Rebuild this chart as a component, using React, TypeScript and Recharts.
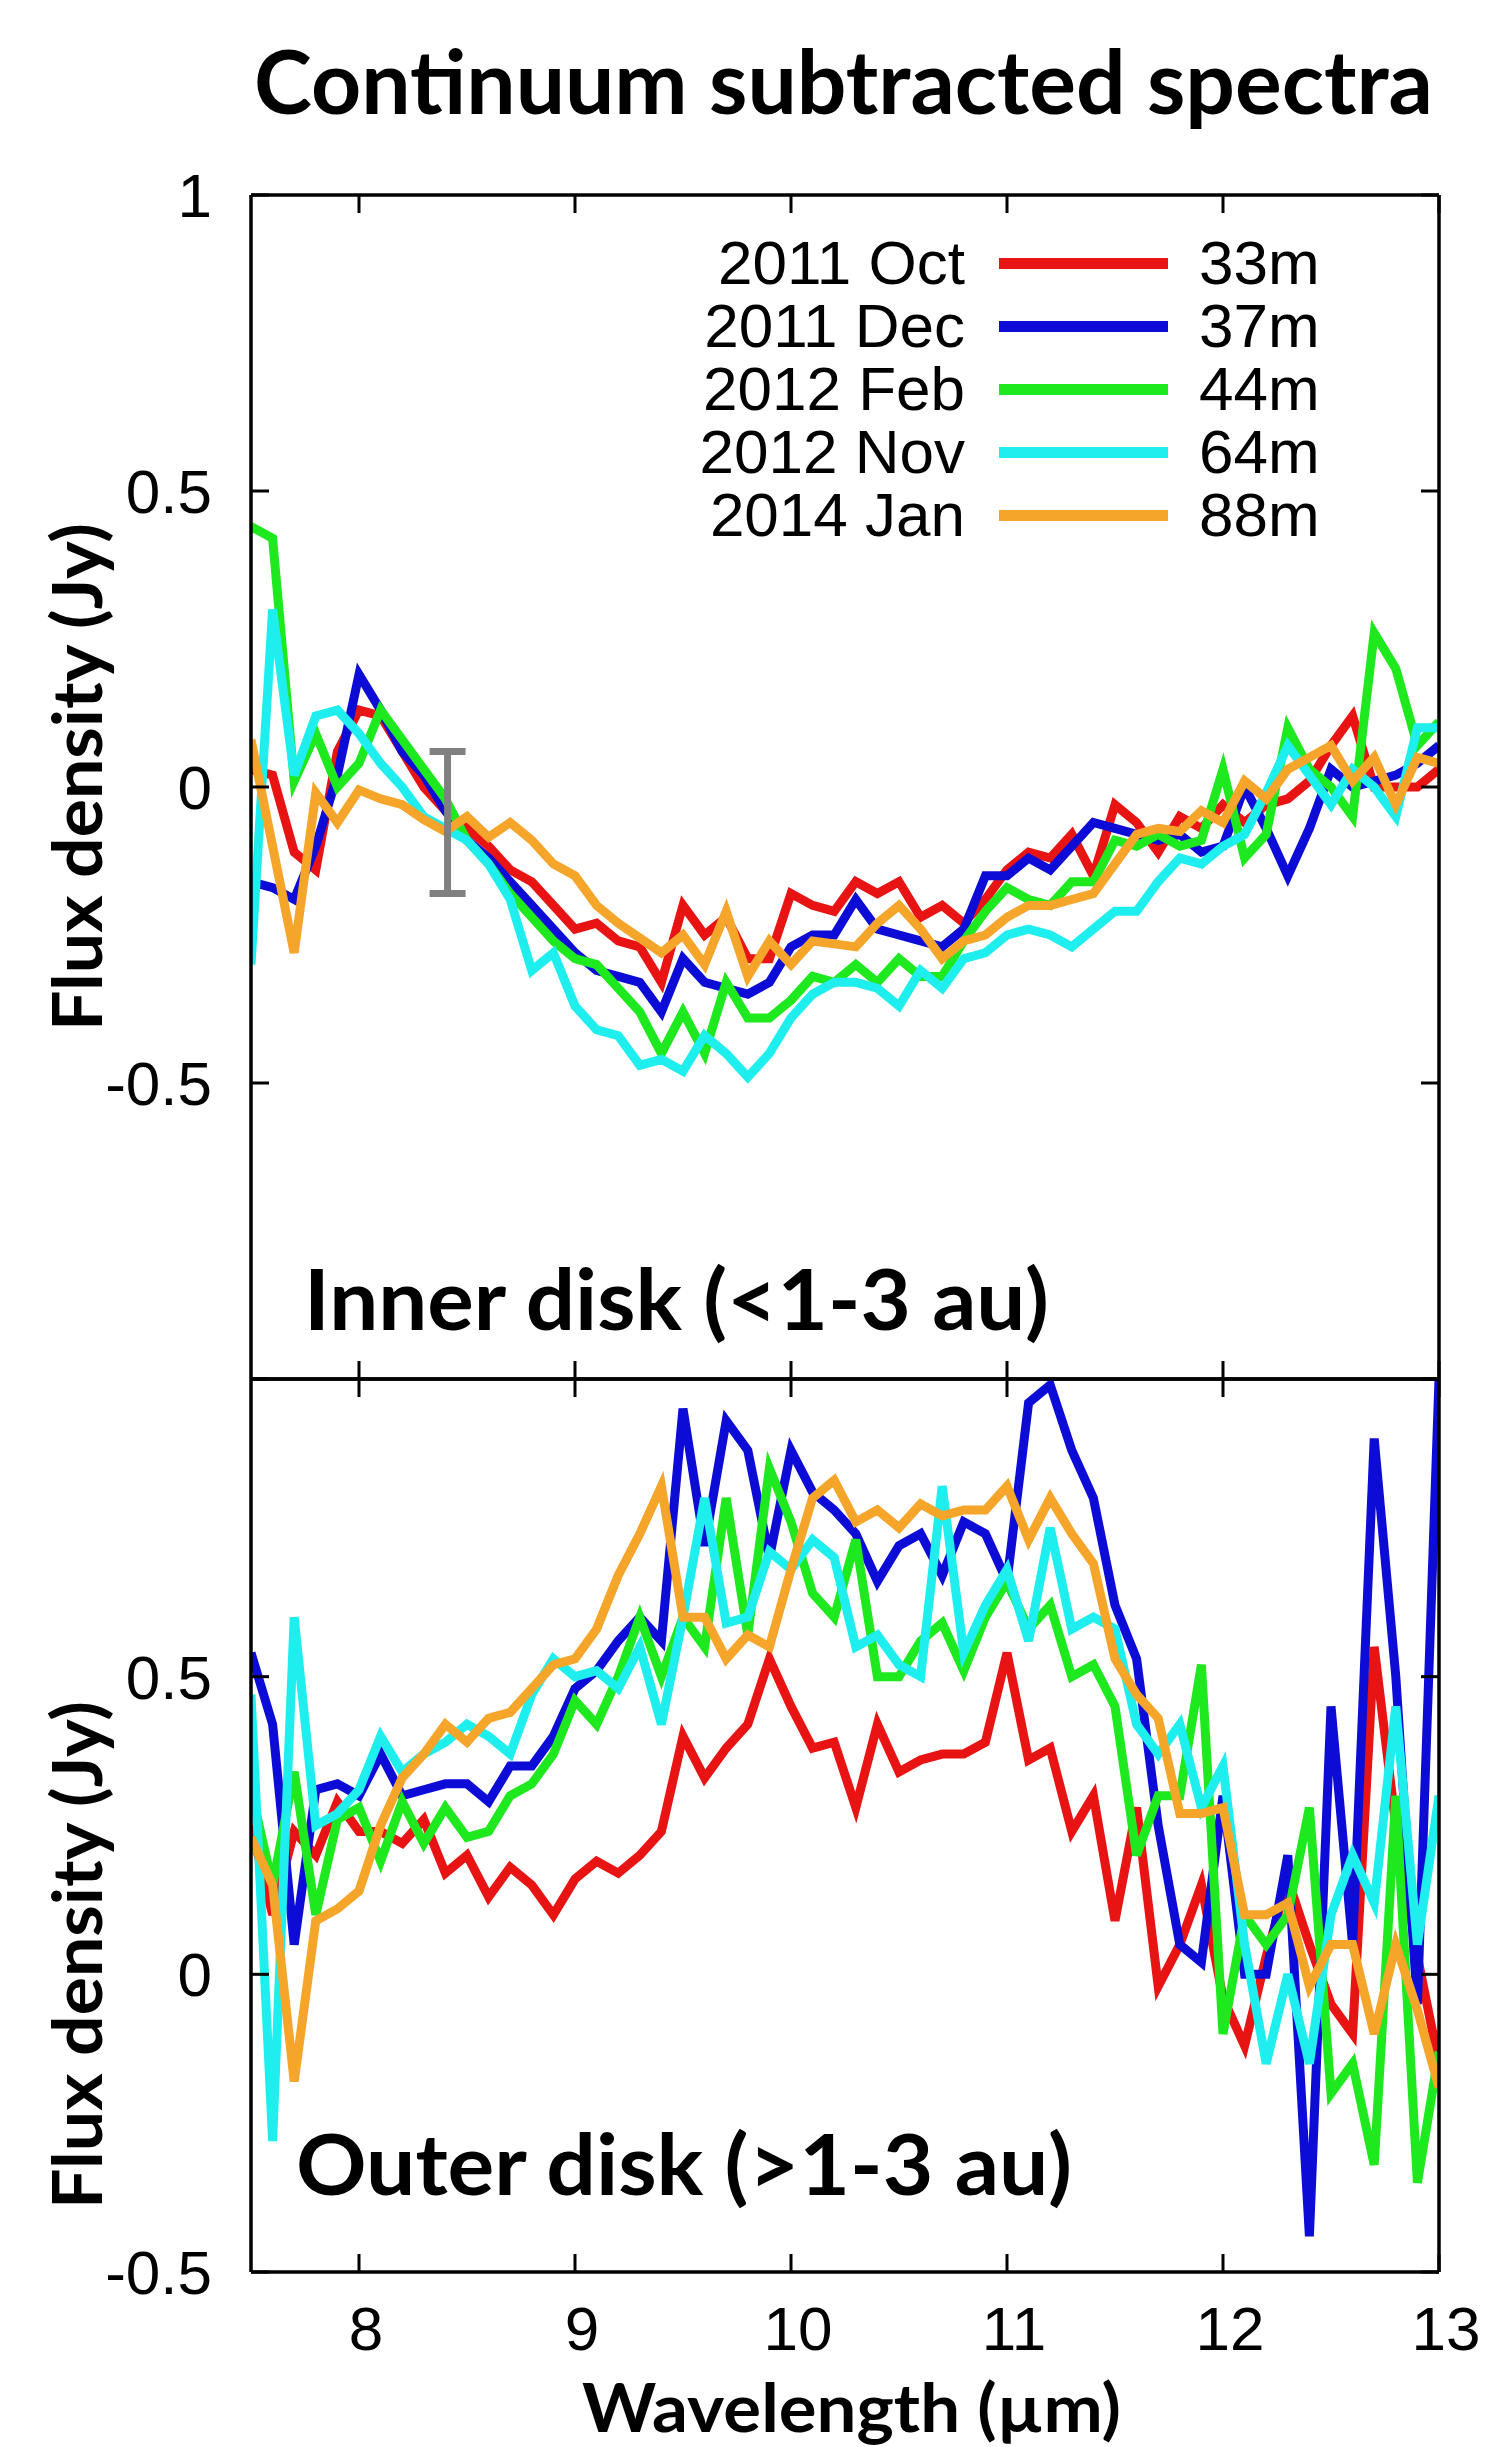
import { ComposedChart, ErrorBar, Line, Scatter, XAxis, YAxis } from 'recharts';

// wavelength grid (µm)
const wavelengths = [
  7.5, 7.6, 7.7, 7.8, 7.9, 8.0, 8.1, 8.2, 8.3, 8.4,
  8.5, 8.6, 8.7, 8.8, 8.9, 9.0, 9.1, 9.2, 9.3, 9.4,
  9.5, 9.6, 9.7, 9.8, 9.9, 10.0, 10.1, 10.2, 10.3, 10.4,
  10.5, 10.6, 10.7, 10.8, 10.9, 11.0, 11.1, 11.2, 11.3, 11.4,
  11.5, 11.6, 11.7, 11.8, 11.9, 12.0, 12.1, 12.2, 12.3, 12.4,
  12.5, 12.6, 12.7, 12.8, 12.9, 13.0,
];

const epochs = ['2011 Oct', '2011 Dec', '2012 Feb', '2012 Nov', '2014 Jan'];
const baselines = ['33m', '37m', '44m', '64m', '88m'];
const seriesKeys = ['oct', 'dec', 'feb', 'nov', 'jan'];
const colors = ['#e81414', '#0c0cd6', '#1ee81e', '#1eeeee', '#f4a52a'];

const xTicks = [8, 9, 10, 11, 12, 13];
const innerTicks = [1, 0.5, 0, -0.5, -1];
const outerTicks = [1, 0.5, 0, -0.5];

// inner disk (<1-3 au), Jy
const innerOct = [
  0.03, 0.02, -0.11, -0.14, 0.06, 0.13, 0.12, 0.06, 0.0, -0.04,
  -0.07, -0.1, -0.14, -0.16, -0.2, -0.24, -0.23, -0.26, -0.27, -0.33,
  -0.2, -0.25, -0.22, -0.29, -0.29, -0.18, -0.2, -0.21, -0.16, -0.18,
  -0.16, -0.22, -0.2, -0.23, -0.19, -0.14, -0.11, -0.12, -0.08, -0.15,
  -0.03, -0.06, -0.11, -0.05, -0.07, -0.03, -0.06, -0.03, -0.02, 0.01,
  0.07, 0.12, 0.0, 0.0, 0.0, 0.03,
];
const innerDec = [
  -0.16, -0.17, -0.19, -0.1, 0.02, 0.19, 0.13, 0.06, 0.02, -0.04,
  -0.09, -0.12, -0.16, -0.2, -0.24, -0.28, -0.31, -0.32, -0.33, -0.38,
  -0.29, -0.33, -0.34, -0.35, -0.33, -0.27, -0.25, -0.25, -0.19, -0.24,
  -0.25, -0.26, -0.27, -0.24, -0.15, -0.15, -0.12, -0.14, -0.1, -0.06,
  -0.07, -0.08, -0.09, -0.08, -0.11, -0.1, 0.0, -0.07, -0.15, -0.07,
  0.03, 0.0, 0.01, 0.02, 0.04, 0.07,
];
const innerFeb = [
  0.44, 0.42, 0.01, 0.09, 0.0, 0.04, 0.13, 0.08, 0.03, -0.02,
  -0.09, -0.13, -0.18, -0.22, -0.26, -0.29, -0.3, -0.34, -0.38, -0.45,
  -0.38, -0.45, -0.33, -0.39, -0.39, -0.36, -0.32, -0.33, -0.3, -0.33,
  -0.29, -0.32, -0.32, -0.26, -0.21, -0.17, -0.19, -0.2, -0.16, -0.16,
  -0.09, -0.1, -0.08, -0.1, -0.09, 0.03, -0.12, -0.08, 0.1, 0.03,
  0.0, -0.05, 0.26, 0.2, 0.07, 0.11,
];
const innerNov = [
  -0.3, 0.3, 0.02, 0.12, 0.13, 0.09, 0.04, 0.0, -0.05, -0.07,
  -0.09, -0.13, -0.19, -0.31, -0.28, -0.37, -0.41, -0.42, -0.47, -0.46,
  -0.48, -0.42, -0.45, -0.49, -0.45, -0.39, -0.35, -0.33, -0.33, -0.34,
  -0.37, -0.31, -0.34, -0.29, -0.28, -0.25, -0.24, -0.25, -0.27, -0.24,
  -0.21, -0.21, -0.16, -0.12, -0.13, -0.1, -0.08, -0.01, 0.07, 0.02,
  -0.03, 0.03, 0.0, -0.05, 0.1, 0.1,
];
const innerJan = [
  0.08, -0.1, -0.28, -0.01, -0.06, -0.005, -0.02, -0.03, -0.055, -0.075,
  -0.05, -0.085, -0.06, -0.09, -0.13, -0.15, -0.2, -0.23, -0.255, -0.28,
  -0.25, -0.3, -0.21, -0.32, -0.26, -0.3, -0.26, -0.265, -0.27, -0.23,
  -0.2, -0.24, -0.29, -0.26, -0.25, -0.22, -0.2, -0.2, -0.19, -0.18,
  -0.13, -0.08, -0.07, -0.075, -0.04, -0.06, 0.01, -0.02, 0.03, 0.05,
  0.07, 0.01, 0.05, -0.03, 0.05, 0.04,
];

// outer disk (>1-3 au), Jy
const outerOct = [
  0.25, 0.1, 0.24, 0.2, 0.29, 0.24, 0.24, 0.22, 0.26, 0.17,
  0.2, 0.13, 0.18, 0.15, 0.1, 0.16, 0.19, 0.17, 0.2, 0.24,
  0.4, 0.33, 0.38, 0.42, 0.53, 0.45, 0.38, 0.39, 0.28, 0.42,
  0.34, 0.36, 0.37, 0.37, 0.39, 0.54, 0.36, 0.38, 0.24, 0.3,
  0.09, 0.28, -0.02, 0.05, 0.15, -0.04, -0.12, 0.03, 0.16, 0.05,
  -0.05, -0.1, 0.55, 0.25, 0.03, -0.15,
];
const outerDec = [
  0.54, 0.42, 0.05, 0.31, 0.32, 0.3, 0.37, 0.3, 0.31, 0.32,
  0.32, 0.29, 0.35, 0.35, 0.4, 0.48, 0.51, 0.56, 0.6, 0.56,
  0.95, 0.72, 0.93, 0.88, 0.7, 0.88, 0.81, 0.78, 0.74, 0.66,
  0.72, 0.74, 0.67, 0.76, 0.74, 0.66, 0.96, 0.99, 0.88, 0.8,
  0.62, 0.53, 0.25, 0.05, 0.02, 0.3, 0.0, 0.0, 0.2, -0.44,
  0.45, 0.05, 0.9, 0.5, -0.05, 1.0,
];
const outerFeb = [
  0.31, 0.15, 0.34, 0.1, 0.26, 0.28, 0.19, 0.29, 0.22, 0.28,
  0.23, 0.24, 0.3, 0.32, 0.37, 0.46, 0.42, 0.5, 0.6, 0.5,
  0.6, 0.55, 0.8, 0.57, 0.85, 0.76, 0.64, 0.6, 0.73, 0.5,
  0.5, 0.56, 0.59, 0.51, 0.6, 0.66, 0.58, 0.62, 0.5, 0.52,
  0.45, 0.2, 0.3, 0.3, 0.52, -0.1, 0.1, 0.05, 0.1, 0.28,
  -0.2, -0.15, -0.32, 0.3, -0.35, -0.13,
];
const outerNov = [
  0.47, -0.28, 0.6, 0.25, 0.27, 0.31, 0.4, 0.34, 0.37, 0.39,
  0.42, 0.4, 0.37, 0.47, 0.53, 0.5, 0.51, 0.48, 0.55, 0.42,
  0.6, 0.8, 0.59, 0.6, 0.71, 0.68, 0.73, 0.7, 0.55, 0.57,
  0.52, 0.5, 0.82, 0.54, 0.62, 0.68, 0.56, 0.75, 0.58, 0.6,
  0.58, 0.42, 0.37, 0.42, 0.28, 0.35, 0.05, -0.15, 0.0, -0.15,
  0.1, 0.2, 0.12, 0.45, 0.05, 0.3,
];
const outerJan = [
  0.23, 0.15, -0.18, 0.09, 0.11, 0.14, 0.25, 0.33, 0.37, 0.42,
  0.39, 0.43, 0.44, 0.48, 0.52, 0.53, 0.58, 0.67, 0.74, 0.82,
  0.6, 0.6, 0.53, 0.57, 0.55, 0.68, 0.8, 0.83, 0.76, 0.78,
  0.75, 0.79, 0.77, 0.78, 0.78, 0.82, 0.73, 0.8, 0.74, 0.69,
  0.53, 0.47, 0.43, 0.27, 0.27, 0.28, 0.1, 0.1, 0.12, -0.02,
  0.05, 0.05, -0.1, 0.05, -0.06, -0.19,
];

// typical uncertainty shown in the inner panel
const errorPoint = [{ w: 8.41, v: -0.06, err: 0.12 }];

const innerData = wavelengths.map((w, i) => ({
  w,
  oct: innerOct[i],
  dec: innerDec[i],
  feb: innerFeb[i],
  nov: innerNov[i],
  jan: innerJan[i],
}));

const outerData = wavelengths.map((w, i) => ({
  w,
  oct: outerOct[i],
  dec: outerDec[i],
  feb: outerFeb[i],
  nov: outerNov[i],
  jan: outerJan[i],
}));

const SANS = '"Liberation Sans", Arial, Helvetica, sans-serif';
const BOLD = 'Lato, "Open Sans", sans-serif';
const TICK_LEN = 18;

const axisLine = { stroke: '#000', strokeWidth: 3.5 };

// inward tick marks (gnuplot style), with labels where wanted
function LeftTick({ x, y, payload, hidden }: any) {
  return (
    <g>
      <line x1={x} y1={y} x2={x + TICK_LEN} y2={y} stroke="#000" strokeWidth={3} />
      {payload.value !== hidden && (
        <text x={x - 39} y={y} dy="0.355em" textAnchor="end" fontSize={62} fontFamily={SANS} fill="#000">
          {String(payload.value)}
        </text>
      )}
    </g>
  );
}

function RightTick({ x, y }: any) {
  return <line x1={x} y1={y} x2={x - TICK_LEN} y2={y} stroke="#000" strokeWidth={3} />;
}

function TopTick({ x, y }: any) {
  return <line x1={x} y1={y} x2={x} y2={y + TICK_LEN} stroke="#000" strokeWidth={3} />;
}

function BottomTick({ x, y, payload, showLabel }: any) {
  return (
    <g>
      <line x1={x} y1={y} x2={x} y2={y - TICK_LEN} stroke="#000" strokeWidth={3} />
      {showLabel && (
        <text x={x + 7} y={y + 78} textAnchor="middle" fontSize={62} fontFamily={SANS} fill="#000">
          {String(payload.value)}
        </text>
      )}
    </g>
  );
}

function SpectraPanel({ data, domain, ticks, hiddenTick, height, margin, showX, children }: any) {
  return (
    <ComposedChart width={1488} height={height} data={data} margin={margin}>
      <XAxis
        xAxisId="b"
        type="number"
        dataKey="w"
        domain={[7.5, 13]}
        ticks={xTicks}
        interval={0}
        allowDataOverflow
        height={1}
        tickSize={0}
        tickMargin={0}
        axisLine={axisLine}
        tickLine={false}
        tick={(p: any) => <BottomTick {...p} showLabel={showX} />}
      />
      <XAxis
        xAxisId="t"
        orientation="top"
        type="number"
        dataKey="w"
        domain={[7.5, 13]}
        ticks={xTicks}
        interval={0}
        allowDataOverflow
        height={1}
        tickSize={0}
        tickMargin={0}
        axisLine={axisLine}
        tickLine={false}
        tick={(p: any) => <TopTick {...p} />}
      />
      <YAxis
        yAxisId="l"
        type="number"
        domain={domain}
        ticks={ticks}
        interval={0}
        allowDataOverflow
        width={1}
        tickSize={0}
        tickMargin={0}
        axisLine={axisLine}
        tickLine={false}
        tick={(p: any) => <LeftTick {...p} hidden={hiddenTick} />}
      />
      <YAxis
        yAxisId="r"
        orientation="right"
        type="number"
        domain={domain}
        ticks={ticks}
        interval={0}
        allowDataOverflow
        width={1}
        tickSize={0}
        tickMargin={0}
        axisLine={axisLine}
        tickLine={false}
        tick={(p: any) => <RightTick {...p} />}
      />
      {seriesKeys.map((key, i) => (
        <Line
          key={key}
          xAxisId="b"
          yAxisId="l"
          type="linear"
          dataKey={key}
          stroke={colors[i]}
          strokeWidth={9}
          dot={false}
          activeDot={false}
          isAnimationActive={false}
        />
      ))}
      {children}
    </ComposedChart>
  );
}

function LegendBox() {
  return (
    <div style={{ position: 'absolute', left: 0, top: 0, width: 1488 }}>
      {epochs.map((label, i) => {
        const cy = 263 + i * 63;
        return (
          <div key={label}>
            <div
              style={{
                position: 'absolute',
                right: 1488 - 965,
                top: cy - 36,
                fontFamily: SANS,
                fontSize: 62,
                lineHeight: '72px',
                whiteSpace: 'nowrap',
                color: '#000',
              }}
            >
              {label}
            </div>
            <div
              style={{
                position: 'absolute',
                left: 999,
                top: cy - 5.5,
                width: 169,
                height: 11,
                background: colors[i],
              }}
            />
            <div
              style={{
                position: 'absolute',
                left: 1199,
                top: cy - 36,
                fontFamily: SANS,
                fontSize: 62,
                lineHeight: '72px',
                whiteSpace: 'nowrap',
                color: '#000',
              }}
            >
              {baselines[i]}
            </div>
          </div>
        );
      })}
    </div>
  );
}

export default function App() {
  return (
    <div
      style={{
        position: 'absolute',
        left: 0,
        top: 0,
        width: 1488,
        height: 2447,
        background: '#fff',
        overflow: 'hidden',
      }}
    >
      <div style={{ position: 'absolute', left: 0, top: 0 }}>
        <SpectraPanel
          data={innerData}
          domain={[-1, 1]}
          ticks={innerTicks}
          hiddenTick={-1}
          height={1400}
          margin={{ top: 194, right: 48, bottom: 20, left: 250 }}
          showX={false}
        >
          <Scatter
            xAxisId="b"
            yAxisId="l"
            data={errorPoint}
            dataKey="v"
            shape={() => <g />}
            isAnimationActive={false}
          >
            <ErrorBar dataKey="err" direction="y" width={18} stroke="#808080" strokeWidth={7} />
          </Scatter>
        </SpectraPanel>
      </div>
      <div style={{ position: 'absolute', left: 0, top: 1300 }}>
        <SpectraPanel
          data={outerData}
          domain={[-0.5, 1]}
          ticks={outerTicks}
          hiddenTick={1}
          height={1147}
          margin={{ top: 78, right: 48, bottom: 174, left: 250 }}
          showX
        />
      </div>

      <LegendBox />

      <svg
        width={1488}
        height={2447}
        style={{ position: 'absolute', left: 0, top: 0, pointerEvents: 'none' }}
      >
        <g fontFamily={BOLD} fontWeight={700} fill="#000">
          <text x={254} y={114} fontSize={88} textLength={1179} lengthAdjust="spacingAndGlyphs">
            Continuum subtracted spectra
          </text>
          <text
            x={102}
            y={777}
            fontSize={68}
            textAnchor="middle"
            textLength={508}
            lengthAdjust="spacingAndGlyphs"
            transform="rotate(-90 102 777)"
          >
            Flux density (Jy)
          </text>
          <text
            x={102}
            y={1955}
            fontSize={68}
            textAnchor="middle"
            textLength={508}
            lengthAdjust="spacingAndGlyphs"
            transform="rotate(-90 102 1955)"
          >
            Flux density (Jy)
          </text>
          <text x={304} y={1330} fontSize={84} textLength={745} lengthAdjust="spacingAndGlyphs">
            Inner disk (&lt;1-3 au)
          </text>
          <text x={296} y={2195} fontSize={84} textLength={776} lengthAdjust="spacingAndGlyphs">
            Outer disk (&gt;1-3 au)
          </text>
          <text x={582} y={2432} fontSize={66} textLength={539} lengthAdjust="spacingAndGlyphs">
            Wavelength (µm)
          </text>
        </g>
      </svg>
    </div>
  );
}
